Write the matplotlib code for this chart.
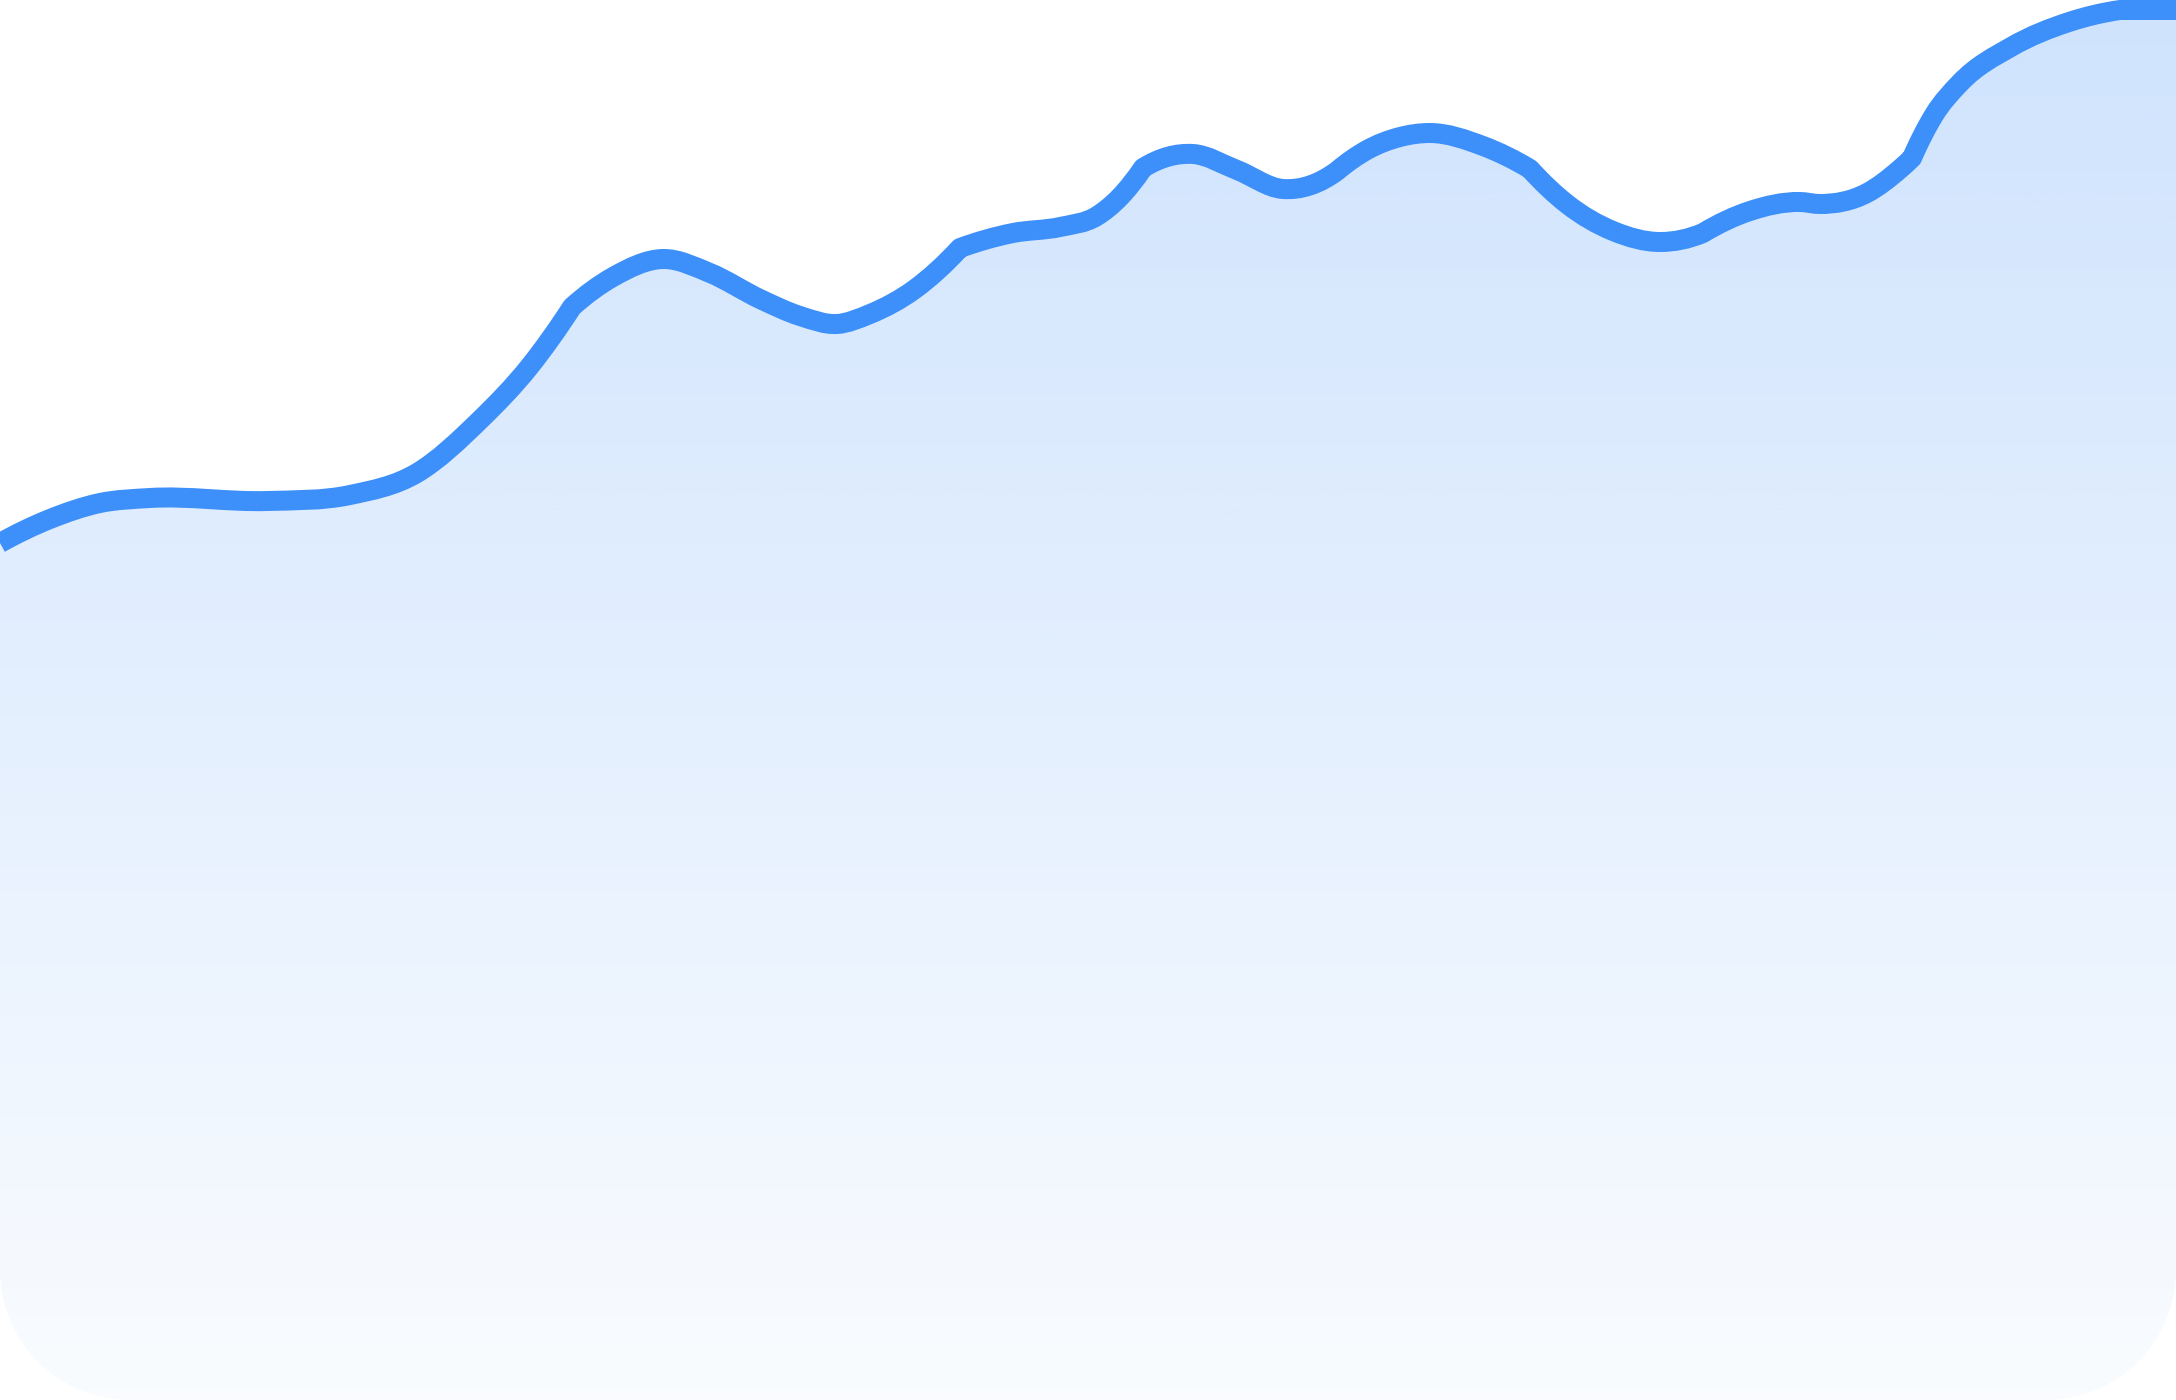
import numpy as np
import matplotlib
matplotlib.use("Agg")
import matplotlib.pyplot as plt
from matplotlib.path import Path
from matplotlib.patches import PathPatch

# series: x position and value (0-1400 scale, up is larger)
x_vals = [0, 50, 100, 150, 267, 350, 417, 480, 530, 572,
          613, 663, 710, 760, 800, 837, 870, 915, 960,
          1013, 1060, 1097, 1120, 1143,
          1193, 1237, 1283, 1337,
          1367, 1400, 1430, 1483, 1530,
          1567, 1613, 1660, 1703,
          1750, 1800, 1820, 1867, 1900, 1912,
          1934, 1960, 2011, 2069, 2120, 2176]
y_vals = [857, 881, 897, 902, 899, 905, 927, 980, 1034, 1093,
          1123, 1141, 1127, 1101, 1084, 1076, 1086, 1111, 1152,
          1167, 1173, 1184, 1203, 1232,
          1246, 1230, 1211, 1229,
          1250, 1263, 1267, 1254, 1231,
          1196, 1169, 1158, 1167,
          1189, 1198, 1196, 1207, 1231, 1242,
          1285, 1317, 1353, 1378, 1390, 1390]
# the line has small corners at these x positions
kinks = [572, 960, 1143, 1337, 1530, 1703, 1912, 2120]

W, H = 2176, 1400
line_color = "#3d8ff9"
corner_r = 130


def slopes(x, y):
    # three-point (parabolic) tangents
    h = np.diff(x)
    d = np.diff(y) / h
    n = len(x)
    m = np.zeros(n)
    if n == 2:
        m[:] = d[0]
        return m
    for i in range(1, n - 1):
        m[i] = (h[i] * d[i - 1] + h[i - 1] * d[i]) / (h[i - 1] + h[i])
    m[0] = ((2 * h[0] + h[1]) * d[0] - h[0] * d[1]) / (h[0] + h[1])
    m[-1] = ((2 * h[-1] + h[-2]) * d[-1] - h[-1] * d[-2]) / (h[-1] + h[-2])
    return m


def curve_path(xs, ys, breaks):
    xs = np.asarray(xs, float)
    ys = np.asarray(ys, float)
    cut = [0] + [int(np.where(xs == b)[0][0]) for b in breaks] + [len(xs) - 1]
    verts = [(xs[0], ys[0])]
    codes = [Path.MOVETO]
    for a, b in zip(cut[:-1], cut[1:]):
        sx, sy = xs[a:b + 1], ys[a:b + 1]
        m = slopes(sx, sy)
        for i in range(len(sx) - 1):
            h = sx[i + 1] - sx[i]
            verts += [(sx[i] + h / 3, sy[i] + m[i] * h / 3),
                      (sx[i + 1] - h / 3, sy[i + 1] - m[i + 1] * h / 3),
                      (sx[i + 1], sy[i + 1])]
            codes += [Path.CURVE4] * 3
    return verts, codes


verts, codes = curve_path(x_vals, y_vals, kinks)
line_path = Path(verts, codes)

# area under the curve, with rounded bottom corners
k = 0.5523 * corner_r
fill_verts = list(verts) + [
    (W, corner_r),
    (W, corner_r - k), (W - corner_r + k, 0), (W - corner_r, 0),
    (corner_r, 0),
    (corner_r - k, 0), (0, corner_r - k), (0, corner_r),
    verts[0],
]
fill_codes = list(codes) + [
    Path.LINETO,
    Path.CURVE4, Path.CURVE4, Path.CURVE4,
    Path.LINETO,
    Path.CURVE4, Path.CURVE4, Path.CURVE4,
    Path.CLOSEPOLY,
]
fill_path = Path(fill_verts, fill_codes)

fig = plt.figure(figsize=(W / 100, H / 100), dpi=100)
ax = fig.add_axes([0, 0, 1, 1])
ax.set_xlim(0, W)
ax.set_ylim(0, H)
ax.axis("off")

# vertical gradient, fading towards the bottom
alpha = np.linspace(0.03, 0.25, 256)
rgba = np.zeros((256, 1, 4))
rgba[..., :3] = matplotlib.colors.to_rgb(line_color)
rgba[:, 0, 3] = alpha
img = ax.imshow(rgba, extent=[0, W, 0, H], origin="lower", aspect="auto",
                interpolation="bilinear", zorder=1)
clip = PathPatch(fill_path, facecolor="none", edgecolor="none",
                 transform=ax.transData)
ax.add_patch(clip)
img.set_clip_path(clip)

ax.add_patch(PathPatch(line_path, facecolor="none", edgecolor=line_color,
                       lw=14.4, capstyle="butt", joinstyle="round", zorder=3))

fig.savefig("out.png", dpi=100)
